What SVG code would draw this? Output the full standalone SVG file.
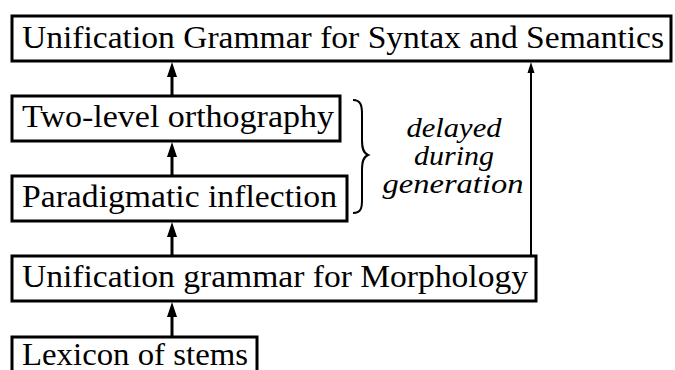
<svg xmlns="http://www.w3.org/2000/svg" width="675" height="370" viewBox="0 0 675 370" font-family="Liberation Serif, serif">
<style>
.box{fill:#fff;stroke:#000;stroke-width:3}
.lbl{font-size:32px}
.ital{font-style:italic;font-size:28px;text-anchor:middle}
.conn{stroke:#000;fill:none}
</style>
<defs>
<path id="ah" d="M0,0 L-5,15 L5,15 z" fill="#000"/>
<path id="ahs" d="M0,0 L-3.5,11 L3.5,11 z" fill="#000"/>
</defs>
<g id="connectors">
<line class="conn" x1="172" y1="96" x2="172" y2="70" stroke-width="3"/>
<use href="#ah" x="172" y="62"/>
<line class="conn" x1="172" y1="176" x2="172" y2="150" stroke-width="3"/>
<use href="#ah" x="172" y="142"/>
<line class="conn" x1="172" y1="256" x2="172" y2="230" stroke-width="3"/>
<use href="#ah" x="172" y="222"/>
<line class="conn" x1="172" y1="337" x2="172" y2="310" stroke-width="3"/>
<use href="#ah" x="172" y="302"/>
<line class="conn" x1="531" y1="256" x2="531" y2="68" stroke-width="2"/>
<use href="#ahs" x="531" y="62"/>
</g>
<g id="syntax">
<rect class="box" x="12" y="16" width="659" height="45"/>
<text class="lbl" x="22" y="48" textLength="642" lengthAdjust="spacingAndGlyphs">Unification Grammar for Syntax and Semantics</text>
</g>
<g id="orthography">
<rect class="box" x="12" y="96" width="328" height="45"/>
<text class="lbl" x="22" y="127" textLength="312" lengthAdjust="spacingAndGlyphs">Two-level orthography</text>
</g>
<g id="inflection">
<rect class="box" x="12" y="176" width="335" height="45"/>
<text class="lbl" x="22" y="207" textLength="315" lengthAdjust="spacingAndGlyphs">Paradigmatic inflection</text>
</g>
<g id="morphology">
<rect class="box" x="12" y="256" width="524" height="45"/>
<text class="lbl" x="22" y="287" textLength="506" lengthAdjust="spacingAndGlyphs">Unification grammar for Morphology</text>
</g>
<g id="lexicon">
<rect class="box" x="12" y="337" width="245" height="45"/>
<text class="lbl" x="22" y="365" textLength="226" lengthAdjust="spacingAndGlyphs">Lexicon of stems</text>
</g>
<g id="delayed">
<path d="M353,100 C361,100 362,106 362,114 L362,140 C362,148 363,153 368,155 C363,157 362,162 362,170 L362,200 C362,208 361,213 353,213" fill="none" stroke="#000" stroke-width="2"/>
<text class="ital" x="454" y="137" textLength="95" lengthAdjust="spacingAndGlyphs">delayed</text>
<text class="ital" x="454" y="165" textLength="80" lengthAdjust="spacingAndGlyphs">during</text>
<text class="ital" x="453" y="193" textLength="141" lengthAdjust="spacingAndGlyphs">generation</text>
</g>
</svg>
